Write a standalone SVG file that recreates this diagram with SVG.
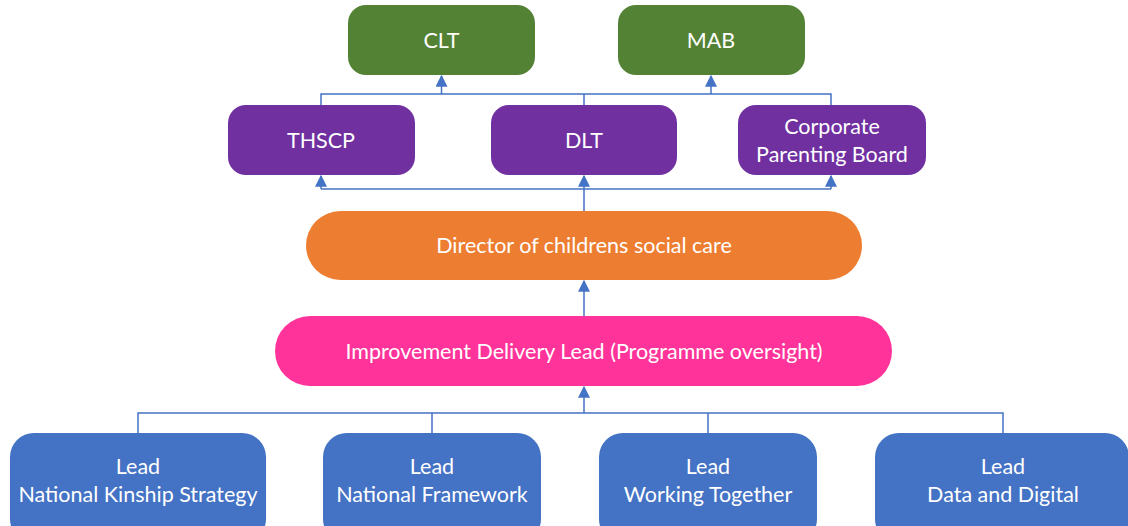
<svg xmlns="http://www.w3.org/2000/svg" width="1128" height="526" viewBox="0 0 1128 526">
  <style>
    .lbl { font-family: "Lato", "Open Sans", "Liberation Sans", sans-serif; font-size: 21.5px; fill: #ffffff; text-anchor: middle; }
    .con { fill: none; stroke: #4472C4; stroke-width: 1.5; }
    .green { fill: #548235; }
    .purple { fill: #7030A0; }
    .orange { fill: #ED7D31; }
    .pink { fill: #FF3399; }
    .blue { fill: #4472C4; }
  </style>
  <defs>
    <marker id="arrow" markerUnits="userSpaceOnUse" markerWidth="12" markerHeight="12" viewBox="0 0 10 10" refX="9" refY="5" orient="auto">
      <path d="M0,0 L10,5 L0,10 z" fill="#4472C4"/>
    </marker>
  </defs>
  <rect width="1128" height="526" fill="#ffffff"/>

  <g id="connectors">
    <!-- second tier up to CLT / MAB -->
    <path class="con" d="M321 105 V94 H831 V105"/>
    <path class="con" d="M584 105 V94"/>
    <path class="con" d="M441.5 94 V76" marker-end="url(#arrow)"/>
    <path class="con" d="M711 94 V76" marker-end="url(#arrow)"/>
    <!-- director up to second tier -->
    <path class="con" d="M321 189 H831"/>
    <path class="con" d="M321 189 V176" marker-end="url(#arrow)"/>
    <path class="con" d="M831 189 V176" marker-end="url(#arrow)"/>
    <path class="con" d="M584 211 V176" marker-end="url(#arrow)"/>
    <!-- delivery lead up to director -->
    <path class="con" d="M584 316 V281" marker-end="url(#arrow)"/>
    <!-- workstream leads up to delivery lead -->
    <path class="con" d="M138 433 V413 H1003 V433"/>
    <path class="con" d="M432 433 V413"/>
    <path class="con" d="M708 433 V413"/>
    <path class="con" d="M584 413 V387" marker-end="url(#arrow)"/>
  </g>

  <g id="clt">
    <rect class="green" x="348" y="5" width="187" height="70" rx="18"/>
    <text class="lbl" x="441.5" y="47.5">CLT</text>
  </g>
  <g id="mab">
    <rect class="green" x="618" y="5" width="187" height="70" rx="18"/>
    <text class="lbl" x="711" y="47.5">MAB</text>
  </g>

  <g id="thscp">
    <rect class="purple" x="228" y="105" width="187" height="70" rx="18"/>
    <text class="lbl" x="321" y="147.5">THSCP</text>
  </g>
  <g id="dlt">
    <rect class="purple" x="491" y="105" width="186" height="70" rx="18"/>
    <text class="lbl" x="584" y="147.5">DLT</text>
  </g>
  <g id="corporate-parenting-board">
    <rect class="purple" x="738" y="105" width="188" height="70" rx="18"/>
    <text class="lbl" x="832" y="133.5">Corporate</text>
    <text class="lbl" x="832" y="161.5">Parenting Board</text>
  </g>

  <g id="director">
    <rect class="orange" x="306" y="211" width="556" height="69" rx="34.5"/>
    <text class="lbl" x="584" y="252.5">Director of childrens social care</text>
  </g>

  <g id="delivery-lead">
    <rect class="pink" x="275" y="316" width="617" height="70" rx="35"/>
    <text class="lbl" x="584" y="358.5">Improvement Delivery Lead (Programme oversight)</text>
  </g>

  <g id="lead-kinship">
    <rect class="blue" x="10" y="433" width="256" height="110" rx="24"/>
    <text class="lbl" x="138" y="473.5">Lead</text>
    <text class="lbl" x="138" y="501.5">National Kinship Strategy</text>
  </g>
  <g id="lead-framework">
    <rect class="blue" x="323" y="433" width="218" height="110" rx="24"/>
    <text class="lbl" x="432" y="473.5">Lead</text>
    <text class="lbl" x="432" y="501.5">National Framework</text>
  </g>
  <g id="lead-working-together">
    <rect class="blue" x="599" y="433" width="218" height="110" rx="24"/>
    <text class="lbl" x="708" y="473.5">Lead</text>
    <text class="lbl" x="708" y="501.5">Working Together</text>
  </g>
  <g id="lead-data-digital">
    <rect class="blue" x="875" y="433" width="254" height="110" rx="24"/>
    <text class="lbl" x="1003" y="473.5">Lead</text>
    <text class="lbl" x="1003" y="501.5">Data and Digital</text>
  </g>
</svg>
